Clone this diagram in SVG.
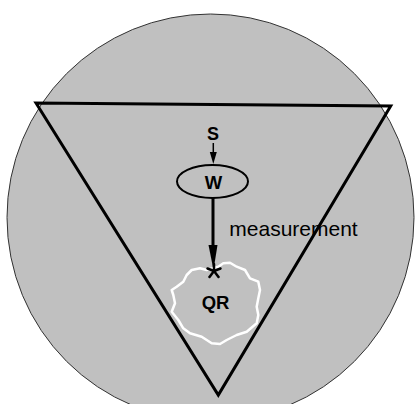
<svg xmlns="http://www.w3.org/2000/svg" width="415" height="404" viewBox="0 0 415 404">
<style>
.lbl{font-family:"Liberation Sans",Arial,sans-serif;fill:#000}
.b{font-weight:bold}
.edge{stroke:#000;fill:none}
</style>
<rect width="415" height="404" fill="#fff"/>
<g id="world">
<circle cx="210.5" cy="217.5" r="203.5" fill="#c0c0c0" stroke="#333" stroke-width="1"/>
</g>
<g id="triangle">
<path d="M36,103 L218.3,395 L390.7,106 Z" fill="none" stroke="#000" stroke-width="3" stroke-linejoin="miter"/>
</g>
<g id="QR">
<path d="M206.7,270 L200,268.3 L191.7,270 L186.7,275 L183.3,281.7 L176.7,286.7 L171.7,290 L173.3,295 L175,303.3 L171.7,311.7 L178.3,320 L183.3,328.3 L190,333.3 L201.7,336.7 L211.7,343.3 L220,344 L226.7,340 L236.7,335 L246.7,331.7 L256.7,323.3 L258.3,315 L256.7,306.7 L258.3,298.3 L260,290 L258.3,281.7 L250,278.3 L245,270 L236.7,266.7 L230,262.7 L223.3,263.3 L218.3,266.7 Z" fill="none" stroke="#fff" stroke-width="2.5" stroke-linejoin="round"/>
<text class="lbl b" x="215.5" y="308.5" font-size="18.5" text-anchor="middle">QR</text>
</g>
<g id="S">
<text class="lbl b" x="213" y="140" font-size="18" text-anchor="middle">S</text>
</g>
<g id="W">
<ellipse cx="212.5" cy="181.5" rx="35.5" ry="16.5" fill="none" stroke="#000" stroke-width="2"/>
<text class="lbl b" x="213.5" y="189" font-size="18.5" text-anchor="middle">W</text>
</g>
<g id="connectors">
<line class="edge" x1="213.3" y1="143" x2="213.3" y2="155" stroke-width="1.5"/>
<path d="M209.8,152 L216.8,152 L213.3,164 Z" fill="#000"/>
<line class="edge" x1="213" y1="198" x2="213" y2="248" stroke-width="3"/>
<path d="M208.5,245 L217.5,245 L213.5,270 Z" fill="#000"/>
<g id="measure-point" stroke="#000" stroke-width="2.5" stroke-linecap="round">
<line x1="214" y1="271" x2="214" y2="264"/>
<line x1="214" y1="271" x2="207.5" y2="268.5"/>
<line x1="214" y1="271" x2="220.5" y2="268.5"/>
<line x1="214" y1="271" x2="209.5" y2="277"/>
<line x1="214" y1="271" x2="218.5" y2="277"/>
</g>
<text id="measurement" class="lbl" x="229.3" y="236" font-size="21">measurement</text>
</g>
</svg>
